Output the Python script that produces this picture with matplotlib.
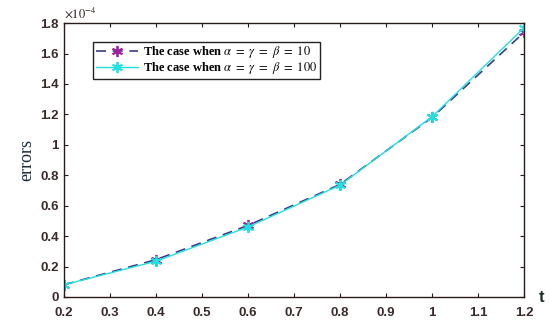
import matplotlib.pyplot as plt

t = [0.2, 0.4, 0.6, 0.8, 1.0, 1.2]
err_10 = [0.080e-4, 0.245e-4, 0.470e-4, 0.740e-4, 1.180e-4, 1.740e-4]
err_100 = [0.080e-4, 0.235e-4, 0.460e-4, 0.735e-4, 1.185e-4, 1.770e-4]
labels = [r'The case when $\alpha\ =\ \gamma\ =\ \beta\ =\ 10$',
          r'The case when $\alpha\ =\ \gamma\ =\ \beta\ =\ 100$']

plt.rcParams['mathtext.fontset'] = 'stix'
plt.rcParams['font.family'] = 'Liberation Sans'

fig = plt.figure(figsize=(5.5, 3.26), dpi=100)
ax = fig.add_axes([0.116, 0.089, 0.837, 0.840])

star = (6, 2, 0)  # matlab-like asterisk
ax.plot(t, err_10, color='#3a3a8c', linestyle=(0, (6, 4)), linewidth=1.2,
        marker=star, markersize=8, markeredgewidth=1.3,
        markeredgecolor='#a020a0', label=labels[0])
ax.plot(t, err_100, color='#20e0e0', linestyle='-', linewidth=1.0,
        marker=star, markersize=8, markeredgewidth=1.3,
        markeredgecolor='#20e0e0', label=labels[1])

ax.set_xlim(0.2, 1.2)
ax.set_ylim(0, 1.8e-4)
ax.set_xticks([0.2, 0.3, 0.4, 0.5, 0.6, 0.7, 0.8, 0.9, 1.0, 1.1, 1.2])
ax.set_xticklabels(['0.2', '0.3', '0.4', '0.5', '0.6', '0.7', '0.8', '0.9', '1', '1.1', '1.2'])
ax.set_yticks([0, 0.2e-4, 0.4e-4, 0.6e-4, 0.8e-4, 1.0e-4, 1.2e-4, 1.4e-4, 1.6e-4, 1.8e-4])
ax.set_yticklabels(['0', '0.2', '0.4', '0.6', '0.8', '1', '1.2', '1.4', '1.6', '1.8'])

ax.tick_params(direction='in', top=True, right=True, length=3, width=0.8,
               labelsize=9.5, colors='#2a1a1a')
ax.tick_params(axis='x', pad=7)
for lbl in ax.get_xticklabels() + ax.get_yticklabels():
    lbl.set_fontweight('bold')
    lbl.set_color('#3a2a2a')
for s in ax.spines.values():
    s.set_color('#2a1a1a')
    s.set_linewidth(1.0)

ax.text(0.0, 1.01, r'$\times10^{-4}$', transform=ax.transAxes, fontsize=9,
        ha='left', va='bottom', color='#2a1a1a', family='Liberation Sans')
ax.set_ylabel('errors', fontsize=13, family='Liberation Serif', color='#1a2a3a')
fig.text(0.984, 0.088, 't', fontsize=12, fontweight='bold', ha='center',
         va='center', color='#1a2a2a')

leg = ax.legend(loc='upper left', bbox_to_anchor=(0.05, 0.955), fancybox=False,
                edgecolor='#222222', framealpha=1, handlelength=3.4,
                borderpad=0.2, labelspacing=0.0, handletextpad=0.4,
                prop={'family': 'Liberation Serif', 'weight': 'bold', 'size': 9})
leg.get_frame().set_linewidth(1.0)

fig.savefig('out.png', dpi=100)
